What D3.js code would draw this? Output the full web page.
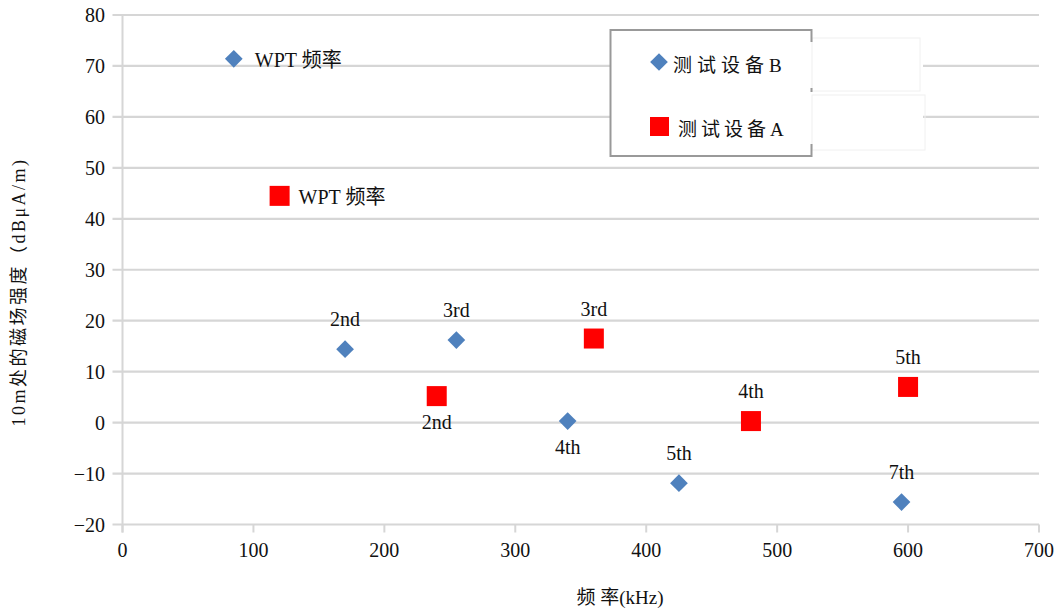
<!DOCTYPE html>
<html><head><meta charset="utf-8">
<script src="https://cdn.jsdelivr.net/npm/d3@7"></script>
<style>
body{margin:0;background:#fff;}
svg text{font-family:"Liberation Serif","Times New Roman","DejaVu Serif","Noto Sans CJK SC",serif;fill:#111;}
</style></head>
<body>
<svg id="c" width="1060" height="614" font-family="Liberation Serif, Times New Roman, DejaVu Serif, Noto Sans CJK SC, serif"></svg>
<script>
// Data
const seriesBNames = ["WPT 频率","2nd","3rd","4th","5th","7th"];
const seriesBFreq  = [85, 170, 255, 340, 425, 595];
const seriesBValue = [71.4, 14.4, 16.2, 0.3, -11.9, -15.6];
const seriesBLabelPos = ["right","above","above","below","above","above"];

const seriesANames = ["WPT 频率","2nd","3rd","4th","5th"];
const seriesAFreq  = [120, 240, 360, 480, 600];
const seriesAValue = [44.5, 5.2, 16.5, 0.3, 7.0];
const seriesALabelPos = ["right","below","above","above","above"];

const xTicks = [0,100,200,300,400,500,600,700];
const yTicks = [-20,-10,0,10,20,30,40,50,60,70,80];
const legendNames = ["测试设备B","测试设备A"];

const svg = d3.select("#c");
const x = d3.scaleLinear().domain([0,700]).range([122.5,1039]);
const y = d3.scaleLinear().domain([-20,80]).range([524.5,15]);
const grid = "#d6d6d6";

// gridlines
svg.append("g").selectAll("line").data(yTicks).join("line")
  .attr("x1",112.5).attr("x2",1039).attr("y1",d=>y(d)).attr("y2",d=>y(d))
  .attr("stroke",grid).attr("stroke-width",2.2);
// left axis line
svg.append("line").attr("x1",x(0)).attr("x2",x(0)).attr("y1",y(80)).attr("y2",y(-20)+8)
  .attr("stroke",grid).attr("stroke-width",2);
// x ticks
svg.append("g").selectAll("line").data(xTicks).join("line")
  .attr("x1",d=>x(d)).attr("x2",d=>x(d)).attr("y1",y(-20)).attr("y2",y(-20)+8)
  .attr("stroke",grid).attr("stroke-width",2);

// tick labels
svg.append("g").selectAll("text").data(yTicks).join("text")
  .attr("x",105).attr("y",d=>y(d)).attr("dy","0.35em").attr("text-anchor","end")
  .attr("font-size",20).text(d=>d<0?"\u2212"+Math.abs(d):d);
svg.append("g").selectAll("text").data(xTicks).join("text")
  .attr("x",d=>x(d)).attr("y",557).attr("text-anchor","middle")
  .attr("font-size",20).text(d=>d);

// axis titles
svg.append("text").attr("transform","translate(25,292) rotate(-90)")
  .attr("text-anchor","middle").attr("font-size",18).attr("letter-spacing",2.5)
  .text("10m处的磁场强度（dBμA/m)");
svg.append("text").attr("x",620).attr("y",604).attr("text-anchor","middle")
  .attr("font-size",19).text("频 率(kHz)");

// legend background + box
svg.append("rect").attr("x",610).attr("y",30).attr("width",313).attr("height",121).attr("fill","#fff");
svg.append("rect").attr("x",812).attr("y",38).attr("width",108).attr("height",53).attr("fill","none").attr("stroke","#f0f0f0");
svg.append("rect").attr("x",812).attr("y",95).attr("width",113).attr("height",55).attr("fill","none").attr("stroke","#f0f0f0");
const lb = svg.append("g").attr("stroke","#999").attr("stroke-width",2).attr("fill","none");
lb.append("path").attr("d","M811.5,42 V30 H610.5 V156 H811.5 V144");
lb.append("line").attr("x1",811.5).attr("x2",811.5).attr("y1",88).attr("y2",92);

const diamond = d3.symbol().type(d3.symbolDiamond2).size(200);
const blue = "#4f81bd", red = "#ff0000";

// legend items
svg.append("path").attr("d",diamond()).attr("transform","translate(659,62)").attr("fill",blue);
svg.append("rect").attr("x",650).attr("y",117).attr("width",19).attr("height",19).attr("fill",red);
svg.append("text").attr("x",673).attr("y",65).attr("dy","0.35em").attr("font-size",19).attr("letter-spacing",5).text(legendNames[0]);
svg.append("text").attr("x",678).attr("y",129).attr("dy","0.35em").attr("font-size",19).attr("letter-spacing",4).text(legendNames[1]);

// series
const B = seriesBFreq.map((f,i)=>({f,v:seriesBValue[i],n:seriesBNames[i],p:seriesBLabelPos[i]}));
const A = seriesAFreq.map((f,i)=>({f,v:seriesAValue[i],n:seriesANames[i],p:seriesALabelPos[i]}));

svg.append("g").selectAll("path").data(B).join("path")
  .attr("d",diamond()).attr("transform",d=>`translate(${x(d.f)},${y(d.v)})`).attr("fill",blue);
svg.append("g").selectAll("rect").data(A).join("rect")
  .attr("x",d=>x(d.f)-10).attr("y",d=>y(d.v)-10).attr("width",20).attr("height",20).attr("fill",red);

function labels(data, sep){
  svg.append("g").selectAll("text").data(data).join("text")
    .attr("font-size",20)
    .attr("x",d=>d.p==="right"? x(d.f)+sep : x(d.f))
    .attr("y",d=>d.p==="right"? y(d.v)+1 : d.p==="above"? y(d.v)-30 : y(d.v)+26)
    .attr("dy","0.35em")
    .attr("text-anchor",d=>d.p==="right"?"start":"middle")
    .text(d=>d.n);
}
labels(B,21);
labels(A,19);
</script>
</body></html>
